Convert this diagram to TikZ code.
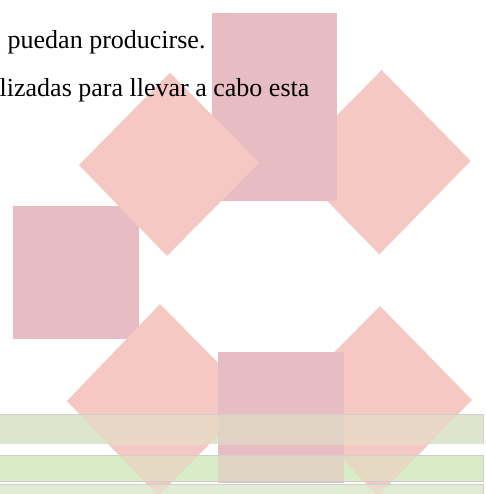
\documentclass[tikz,border=0pt]{standalone}
\usepackage{fontspec}
\setmainfont{Liberation Serif}
\definecolor{rosa}{HTML}{F6C8C3}
\definecolor{malva}{HTML}{E7BCC2}
\definecolor{barA}{HTML}{DDE6CD}
\definecolor{barB}{HTML}{D9ECC8}
\definecolor{barC}{HTML}{E0EDD4}
\definecolor{barArosa}{HTML}{E8D7C5}
\definecolor{barAmalva}{HTML}{E0D2C4}
\definecolor{barBrosa}{HTML}{E6D9C3}
\definecolor{barBmalva}{HTML}{DFD3C3}
\definecolor{barCrosa}{HTML}{EADCCB}
\definecolor{bordeBar}{HTML}{CFCFCF}
\tikzset{
  diamante/.style={fill=rosa},
  caja/.style={fill=malva},
  texto/.style={anchor=base west, inner sep=0pt, font=\fontsize{26}{30}\selectfont, text=black},
}
\begin{document}
\begin{tikzpicture}[x=1pt,y=-1pt]
\useasboundingbox (0,0) rectangle (485,494);
\clip (0,0) rectangle (485,494);
\fill[white] (0,0) rectangle (485,494);
% upper group
\fill[diamante] (381.7,70) -- (470.7,161) -- (379.3,254.3) -- (290,163) -- cycle;
\fill[caja] (212,13) rectangle (337,201);
\fill[caja] (13,206) rectangle (139,339);
\fill[diamante] (170,72.7) -- (259,162.7) -- (167,256) -- (79,165) -- cycle;
% lower group
\fill[diamante] (160,304) -- (254,399) -- (158,496) -- (67,401) -- cycle;
\fill[diamante] (380,306) -- (472,400) -- (378,496) -- (286,401) -- cycle;
\fill[caja] (218,352) rectangle (344,483);
% bars
\fill[barA] (0,414) rectangle (483,444);
\fill[barB] (0,455.5) rectangle (483,481.5);
\fill[barC] (0,484) rectangle (483,500);
% bar over shapes
\begin{scope}
  \clip (0,414) rectangle (483,444);
  \fill[barArosa] (160,304) -- (254,399) -- (158,496) -- (67,401) -- cycle;
  \fill[barArosa] (380,306) -- (472,400) -- (378,496) -- (286,401) -- cycle;
  \fill[barAmalva] (218,352) rectangle (344,483);
\end{scope}
\begin{scope}
  \clip (0,455.5) rectangle (483,481.5);
  \fill[barBrosa] (160,304) -- (254,399) -- (158,496) -- (67,401) -- cycle;
  \fill[barBrosa] (380,306) -- (472,400) -- (378,496) -- (286,401) -- cycle;
  \fill[barBmalva] (218,352) rectangle (344,483);
\end{scope}
\begin{scope}
  \clip (0,484) rectangle (483,500);
  \fill[barCrosa] (160,304) -- (254,399) -- (158,496) -- (67,401) -- cycle;
  \fill[barCrosa] (380,306) -- (472,400) -- (378,496) -- (286,401) -- cycle;
\end{scope}
\draw[bordeBar, line width=0.7pt] (0,414) -- (483,414) -- (483,444);
\draw[bordeBar, line width=0.7pt] (0,455.5) -- (483,455.5) -- (483,481.5) -- (0,481.5);
\draw[bordeBar, line width=0.7pt] (0,484) -- (483,484) -- (483,500);
% text
\node[texto] (linea1) at (7.5,48.5) {puedan producirse.};
\node[texto] (linea2) at (-0.5,97) {lizadas para llevar a cabo esta};
\end{tikzpicture}
\end{document}
